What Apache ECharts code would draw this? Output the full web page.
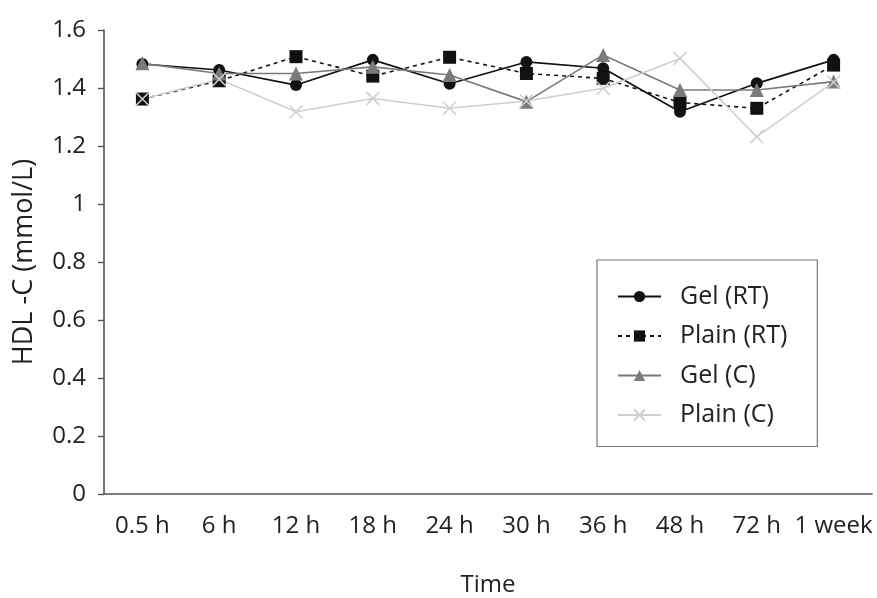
<!DOCTYPE html>
<html>
<head>
<meta charset="utf-8">
<script src="https://cdn.jsdelivr.net/npm/echarts@6/dist/echarts.min.js"></script>
<style>
  html, body { margin: 0; padding: 0; background: #fff; }
  #chart { width: 877px; height: 598px; }
</style>
</head>
<body>
<div id="chart"></div>
<script>
// HDL-C over storage time, four tube/temperature conditions
const timePoints = ['0.5 h', '6 h', '12 h', '18 h', '24 h', '30 h', '36 h', '48 h', '72 h', '1 week'];
const gelRT    = [1.483, 1.462, 1.41, 1.497, 1.415, 1.49, 1.468, 1.318, 1.416, 1.497];
const plainRT  = [1.362, 1.425, 1.508, 1.441, 1.506, 1.45, 1.433, 1.35, 1.33, 1.479];
const gelC     = [1.485, 1.45, 1.45, 1.473, 1.445, 1.353, 1.514, 1.393, 1.393, 1.422];
const plainC   = [1.362, 1.43, 1.318, 1.364, 1.33, 1.355, 1.399, 1.502, 1.232, 1.42];

const FONT = 'Open Sans';
const TEXT = '#222';
const AXIS = '#555';
const chart = echarts.init(document.getElementById('chart'));

function lineSeries(name, data, color, symbol, size, dashed) {
  return {
    name: name,
    type: 'line',
    data: data,
    symbol: symbol,
    symbolSize: size,
    lineStyle: { color: color, width: 1.6, type: dashed ? [4, 4] : 'solid' },
    itemStyle: { color: color },
    emphasis: { disabled: true },
    animation: false
  };
}

chart.setOption({
  backgroundColor: '#fff',
  textStyle: { fontFamily: FONT },
  grid: { left: 104, right: 5, top: 30, bottom: 104, outerBoundsMode: 'none', containLabel: false },
  legend: {
    left: 597, top: 260,
    orient: 'vertical',
    padding: [24, 30, 19, 20],
    itemGap: 14.5,
    itemWidth: 43,
    itemHeight: 14,
    borderColor: '#777',
    borderWidth: 1.2,
    textStyle: { fontFamily: FONT, fontSize: 25, color: TEXT, padding: [0, 0, 0, 14] },
    data: ['Gel (RT)', 'Plain (RT)', 'Gel (C)', 'Plain (C)']
  },
  xAxis: {
    type: 'category',
    data: timePoints,
    boundaryGap: true,
    name: 'Time',
    nameLocation: 'middle',
    nameGap: 79,
    nameTextStyle: { fontFamily: FONT, fontSize: 24, color: TEXT },
    axisLine: { lineStyle: { color: AXIS, width: 1.6 } },
    axisTick: { length: 8, lineStyle: { color: AXIS, width: 1.4 } },
    axisLabel: { fontFamily: FONT, fontSize: 24, color: TEXT, margin: 20, interval: 0 }
  },
  yAxis: {
    type: 'value',
    min: 0, max: 1.6, interval: 0.2,
    name: 'HDL -C (mmol/L)',
    nameLocation: 'middle',
    nameGap: 66,
    nameTextStyle: { fontFamily: FONT, fontSize: 27, color: TEXT },
    splitLine: { show: false },
    axisLine: { show: true, lineStyle: { color: AXIS, width: 1.6 } },
    axisTick: { show: true, length: 6, lineStyle: { color: AXIS, width: 1.4 } },
    axisLabel: { fontFamily: FONT, fontSize: 24, color: TEXT, margin: 18 }
  },
  series: [
    lineSeries('Gel (RT)', gelRT, '#111', 'circle', 12, false),
    lineSeries('Plain (RT)', plainRT, '#111', 'rect', 13, true),
    lineSeries('Gel (C)', gelC, '#7a7a7a', 'triangle', 14, false),
    Object.assign(lineSeries('Plain (C)', plainC, '#cfcfcf', 'path://M0,0 L10,10 M10,0 L0,10', 13, false), {
      itemStyle: { color: 'none', borderColor: '#cfcfcf', borderWidth: 1.6 }
    })
  ]
});
</script>
</body>
</html>
